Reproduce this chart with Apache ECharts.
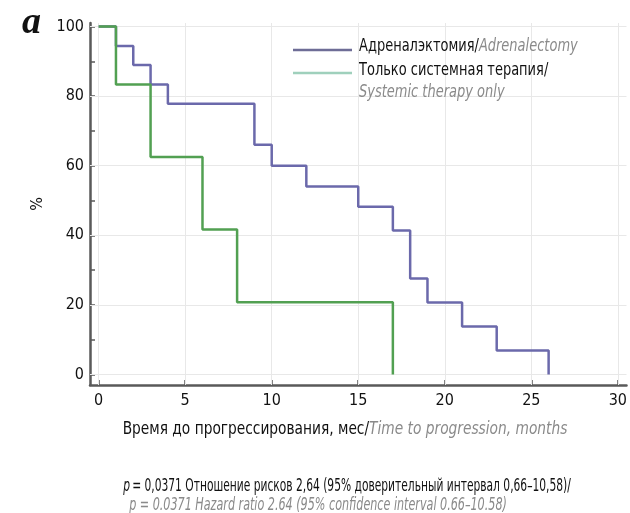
<!DOCTYPE html>
<html><head><meta charset="utf-8">
<script src="https://cdn.jsdelivr.net/npm/echarts@6/dist/echarts.min.js"></script>
<style>html,body{margin:0;padding:0;background:#fff}#c{width:630px;height:513px}</style>
</head><body><div id="c"></div>
<script>
// Data (Kaplan-Meier, time in months, % without progression)
const adrenalTimes  = [0, 1, 2, 3, 4, 9, 10, 12, 15, 17, 18, 19, 21, 23, 26];
const adrenalValues = [100, 94.4, 88.9, 83.3, 77.8, 66, 60, 54, 48.2, 41.4, 27.6, 20.7, 13.8, 6.9, 0];
const systemicTimes  = [0, 1, 3, 6, 8, 17];
const systemicValues = [100, 83.3, 62.5, 41.7, 20.8, 0];
const xTicks = [0, 5, 10, 15, 20, 25, 30];
const yTicks = [0, 20, 40, 60, 80, 100];
const yMinorTicks = [0, 10, 20, 30, 40, 50, 60, 70, 80, 90, 100];

const FONT = '"Liberation Sans Narrow", "DejaVu Sans Condensed", "Noto Sans", sans-serif';
const AX = '#595959';
const BLUE = '#6b69ab';
const GREEN = '#52a052';
const GREY = '#8a8a8a';

const pairs = (xs, ys) => xs.map((x, i) => [x, ys[i]]);

function richText(x, y, text, size, align, scaleX, lineHeight) {
  const st = (extra) => Object.assign({fontFamily: FONT, fontSize: size, fill: '#111', lineHeight: lineHeight || size + 5}, extra);
  return {
    type: 'text', x: x, y: y, scaleX: scaleX, z: 10,
    style: {
      x: 0, y: 0, text: text, align: align, verticalAlign: 'middle',
      rich: {
        n: st({}),
        i: st({fontStyle: 'italic'}),
        g: st({fill: GREY, fontStyle: 'italic'})
      }
    }
  };
}

const chart = echarts.init(document.getElementById('c'), null, {renderer: 'canvas'});
chart.setOption({
  animation: false,
  backgroundColor: '#fff',
  grid: {left: 90, right: 2, top: 23, bottom: 128, containLabel: false},
  title: [
    {text: 'a', left: 17, top: -1,
     textStyle: {fontFamily: '"Liberation Serif", serif', fontStyle: 'italic', fontWeight: 'bold', fontSize: 38, color: '#111'}}
  ],
  xAxis: {
    type: 'value', min: -0.5, max: 30.5,
    axisLine: {show: true, onZero: false, lineStyle: {color: AX, width: 2.5}},
    axisTick: {show: true, inside: true, length: 5, customValues: xTicks, lineStyle: {color: AX, width: 1.5}},
    axisLabel: {customValues: xTicks, fontFamily: FONT, fontSize: 16, color: '#111', margin: 8},
    splitLine: {show: false}
  },
  yAxis: {
    type: 'value', min: -3, max: 101,
    name: '%', nameLocation: 'middle', nameGap: 44, nameRotate: 90,
    nameTextStyle: {fontFamily: FONT, fontSize: 16, color: '#111'},
    axisLine: {show: true, onZero: false, lineStyle: {color: AX, width: 2.5}},
    axisTick: {show: true, inside: true, length: 5, customValues: yMinorTicks, lineStyle: {color: AX, width: 1.5}},
    axisLabel: {customValues: yTicks, fontFamily: FONT, fontSize: 16, color: '#111', margin: 6},
    splitLine: {show: false}
  },
  graphic: [
    {type: 'line', shape: {x1: 293, y1: 50, x2: 352, y2: 50}, style: {stroke: '#6e6d96', lineWidth: 2.5}},
    {type: 'line', shape: {x1: 293, y1: 73, x2: 352, y2: 73}, style: {stroke: '#9fd0bc', lineWidth: 2.5}},
    richText(359, 47, '{n|Адреналэктомия/}{g|Adrenalectomy}', 17, 'left', 0.85),
    richText(359, 71, '{n|Только системная терапия/}', 17, 'left', 0.85),
    richText(359, 93, '{g|Systemic therapy only}', 17, 'left', 0.85),
    richText(345, 430, '{n|Время до прогрессирования, мес/}{g|Time to progression, months}', 17, 'center', 0.9),
    richText(347, 486, '{i|p} {n|= 0,0371 Отношение рисков 2,64 (95% доверительный интервал 0,66–10,58)/}', 18, 'center', 0.66),
    richText(318, 505, '{g|p = 0.0371 Hazard ratio 2.64 (95% confidence interval 0.66–10.58)}', 18, 'center', 0.69)
  ],
  series: [
    {
      type: 'line', name: 'grid', data: [], silent: true, z: 1,
      markLine: {
        silent: true, symbol: 'none', label: {show: false}, z: 1, animation: false,
        lineStyle: {color: '#e8e8e8', width: 1, type: 'solid'},
        data: xTicks.map(v => ({xAxis: v})).concat(yTicks.map(v => ({yAxis: v})))
      }
    },
    {
      type: 'line', name: 'Адреналэктомия/Adrenalectomy', step: 'end', showSymbol: false,
      data: pairs(adrenalTimes, adrenalValues),
      lineStyle: {color: BLUE, width: 2.5}, itemStyle: {color: BLUE}, z: 3
    },
    {
      type: 'line', name: 'Только системная терапия/Systemic therapy only', step: 'end', showSymbol: false,
      data: pairs(systemicTimes, systemicValues),
      lineStyle: {color: GREEN, width: 2.5}, itemStyle: {color: GREEN}, z: 4
    }
  ]
});
</script></body></html>
